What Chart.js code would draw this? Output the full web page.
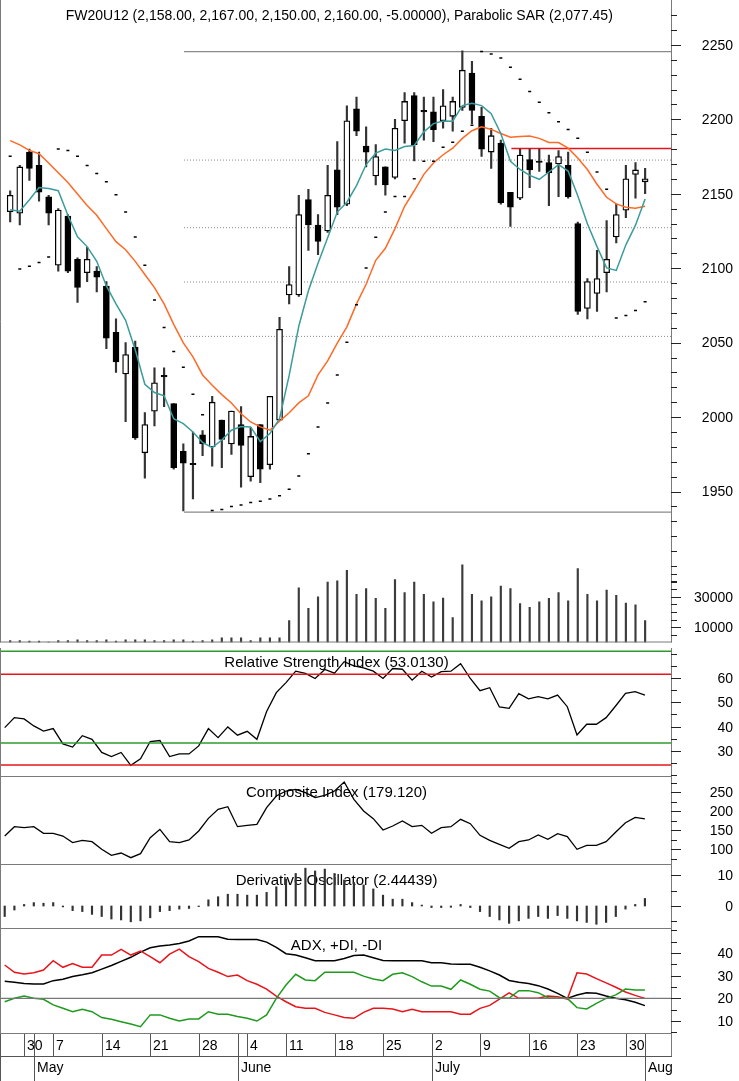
<!DOCTYPE html>
<html>
<head>
<meta charset="utf-8">
<script src="https://cdn.jsdelivr.net/npm/chart.js@4.4.1/dist/chart.umd.min.js"></script>
<style>
  html, body { margin: 0; padding: 0; background: #fff; }
  #wrap { position: relative; width: 739px; height: 1081px; overflow: hidden; }
  #wrap canvas { position: absolute; left: 0; display: block; }
</style>
</head>
<body>
<div id="wrap">
  <canvas id="priceChart" width="739" height="648" style="top:0"></canvas>
  <canvas id="rsiChart" width="739" height="129" style="top:648px"></canvas>
  <canvas id="compChart" width="739" height="88" style="top:777px"></canvas>
  <canvas id="derivChart" width="739" height="64" style="top:865px"></canvas>
  <canvas id="adxChart" width="739" height="152" style="top:929px"></canvas>
</div>
<script>
// FW20U12 daily, 26 Apr - 1 Aug 2012 (one entry per trading day)
const openP  = [2138,2137,2178,2169,2148,2102,2135,2106,2097,2098,2088,2057,2029,2047,1976,2004,2028,2009,1977,1969,1988,1980,1998,1982,1995,1960,1995,1968,1998,2082,2082,2146,2129,2125,2166,2143,2207,2182,2162,2168,2161,2199,2216,2206,2205,2199,2202,2208,2231,2202,2178,2184,2151,2147,2173,2172,2171,2170,2169,2130,2073,2083,2097,2121,2139,2163,2158]
const highP  = [2152,2169,2180,2178,2149,2140,2136,2107,2114,2101,2091,2066,2050,2051,2003,2033,2033,2009,1982,1990,1991,2014,1998,2004,2007,1993,1995,2014,2067,2101,2149,2153,2136,2169,2185,2209,2215,2195,2183,2168,2200,2218,2218,2215,2215,2220,2215,2246,2239,2208,2194,2186,2151,2180,2180,2180,2176,2179,2178,2131,2093,2112,2132,2143,2169,2171,2167]
const lowP   = [2131,2129,2159,2145,2129,2098,2097,2077,2091,2084,2046,2030,1997,1985,1959,1994,2007,1965,1937,1945,1974,1967,1966,1975,1953,1957,1956,1965,1998,2076,2081,2112,2109,2124,2136,2142,2189,2168,2156,2149,2160,2184,2172,2186,2185,2194,2192,2206,2197,2175,2167,2143,2128,2146,2154,2165,2142,2148,2147,2069,2066,2071,2084,2117,2134,2147,2150]
const closeP = [2149,2168,2167,2151,2137,2139,2098,2087,2106,2094,2053,2037,2042,1986,1995,2023,2027,1966,1969,1968,1982,2010,1985,2004,1981,1987,1965,2014,2059,2089,2136,2129,2118,2149,2141,2199,2192,2178,2175,2156,2194,2212,2183,2205,2193,2209,2212,2233,2206,2180,2189,2144,2141,2176,2166,2171,2164,2175,2148,2071,2091,2093,2106,2136,2160,2166,2160]

const maFast = [2139.2,2138.3,2146,2154.2,2153.5,2152,2135.5,2121.1,2114.5,2104.6,2088.1,2076,2065,2045.2,2022,2016.5,2014.3,1998.9,1995.6,1990,1983,1979.5,1984.6,1991.2,1993.6,1993.4,1983.5,1988.9,1998.9,2028,2061,2084.8,2103.3,2120.5,2137.7,2144.3,2155.5,2169.6,2177.3,2180,2179.1,2181.7,2182.4,2191.6,2197.1,2198.9,2198.7,2209.2,2210.8,2209.2,2203.7,2190.5,2171.8,2166.3,2162.3,2159.7,2164.6,2169.6,2165.2,2148.7,2129.9,2114.5,2100.2,2098.5,2115.7,2128.9,2146.5]
const maSlow = [2185.7,2182.8,2179.1,2176.9,2170.7,2164.1,2157.5,2149.8,2142.1,2135.5,2126.6,2117.8,2112.4,2104.6,2095.8,2087,2076,2062.3,2049.8,2040.5,2028.3,2021.4,2015.1,2009.5,2002.2,1996.7,1993.4,1991.2,1997.2,2002.9,2009.5,2014.3,2028.3,2037.7,2049.6,2060.6,2076,2089.2,2105.3,2113.4,2126.6,2141.6,2152,2163,2170.7,2176.2,2180.6,2187.2,2192.3,2195,2193.2,2190.5,2187.9,2188.5,2188.7,2187.2,2184.4,2184.4,2180.6,2174,2166.3,2156.4,2147.6,2143.2,2141,2140.3,2141.6]
const sarVals = [2175.1,2099.5,2101.3,2103.9,2107.5,2180,2179.1,2175.1,2168.9,2163.6,2158.1,2149.3,2137.7,2120.9,2102,2078.6,2060.1,2044,2033.5,2015.4,2001.5,1937.2,1937.9,1939.9,1940.9,1942.7,1943.4,1944.9,1947.1,1951.5,1960.4,1975.3,1993.4,2009.5,2028.2,2050.2,2075.5,2100.2,2120.7,2137.7,2148.2,2148.2,2160.1,2171.8,2171.8,2181.3,2184.6,2192,2196,2245.6,2243.9,2241.2,2235,2226.9,2218.7,2211.5,2204.4,2198.3,2193.2,2187.2,2177.8,2164.6,2153.1,2066.5,2068.3,2071.6,2077.45]
const volume = [1200,1200,1000,1000,300,1200,1200,1800,1200,1200,1800,1000,1800,1800,1800,1200,1200,1800,1800,1000,1200,1800,3000,3000,3000,1200,3000,3000,3000,14400,35900,22400,29900,39600,40400,47300,31600,35300,29000,22400,41300,32700,39600,31600,26700,29200,16300,51000,31600,27300,29900,37000,35300,25600,23000,26700,29000,32700,27300,48400,31600,27300,34400,31000,25800,24700,14400]

const rsiVals = [39.6,43.7,43.2,40.3,38.2,39.2,32.9,31.6,36.3,34.8,29.4,27.7,29.4,24.1,26.8,33.9,34.3,27.7,28.8,28.8,32.1,39.2,35.5,39.9,36.5,38.1,34.8,46.2,54,58.1,62.8,61.9,59.8,63.5,62,66.7,65,64.2,62.8,59.8,63.9,63.6,59.1,62.8,60.4,62.6,62.8,65.9,59.8,54.8,56,48.1,47.5,53.6,51.4,52.3,51.4,53,48.2,36.6,41,41,43.7,48.6,53.7,54.4,53.0]
const compVals = [134.2,158.8,156.2,158.8,141.3,141.3,134.2,116.7,122.8,119.3,99.2,83.4,89.5,77.2,87.7,129.9,151.8,119.3,116.7,123.7,147.4,180.7,204.4,211.4,158.8,162.3,164.9,208.8,239.5,252.6,257,248.3,235.1,241.2,252.6,276.3,230.7,200,179.8,150,160.6,173.7,158.8,162.3,141.3,156.2,158.8,178.1,166.7,136,122.8,112.3,101.8,119.3,123.7,136.9,125.5,140.4,132.5,99.2,109.7,109.7,119.3,144.8,169.3,183.4,179.1]
const derivVals = [-3.4,-1.3,0.5,1.1,0.9,1.1,-0.3,-1.5,-1.8,-2.7,-3.4,-4.2,-4.5,-5.1,-4.8,-3.8,-1.8,-1.5,-1,-0.8,-0.2,2,3,3.8,3.8,3.5,3.5,4.4,6.2,8.7,10.5,12.2,11.3,11.9,10.5,8.4,7.6,6.8,5.5,3.5,2.2,2.2,1.1,0.3,-0.5,-0.5,-0.4,0.5,-0.5,-1.8,-3.4,-4.5,-5.6,-4.8,-4,-3.4,-4,-3.1,-4,-4.8,-5.3,-5.9,-5.3,-3.4,-1,0.5,2.44]
const adxVals = [27.5,27.1,26.5,26.3,26.3,27.8,28.4,29.6,30.4,31.3,32.9,34.5,36.3,38.1,40.4,42.3,43.1,43.5,44.2,45.3,47.2,47.2,47.2,46.1,46,46,46,44.8,42.5,39.7,39.1,37.9,36.6,36.6,36.6,37.6,38.9,39.1,37.9,36.7,36.6,36.6,36.6,36.6,35.7,35.7,35.1,35,35,33.7,32.1,30.3,27.9,27.1,26.5,25.6,24.1,22.2,20,21.5,22.5,22.2,21,20,19.4,18.3,16.8]
const plusDI = [18.5,20,21,20,19.6,17.1,15.6,14.1,15.2,14.1,11.5,10.8,9.7,8.7,7.5,12.7,12.7,11.2,10,10.9,10.9,14.1,13,13,12,11.2,10,12.7,20,25.9,30.6,28.1,27.8,31.5,31.5,31.5,31.5,29.8,28.5,27.8,30.6,31.3,29.6,27.3,25.4,25.4,24,28.1,26.2,24,23.2,20.3,20,23.4,23.4,22.5,20.3,20,20,15.9,15.3,17.8,20,21.5,24.1,23.7,23.7]
const minusDI = [34.7,31.5,30.7,31.3,32.5,36.6,33.7,35.4,33.7,33.7,39.1,39.1,41.6,39.1,40.9,38.4,35.7,39.5,41.7,38.4,36.2,33.2,31.5,29.6,30.3,27.8,26.2,24.1,21,18.5,16.3,15.6,15.6,13.8,12.7,11.6,11.2,13.8,15.6,15.6,15.3,14.1,15.2,14.1,14.1,14.1,14.1,13,13,15.6,16.9,19.7,22.4,20,20,20,21,20.7,19.7,31.3,30.7,28.7,26.8,24.9,22.8,21.3,20]

// drawn levels
const fibLevels = [2245.4, 2172.6, 2127.2, 2090.7, 2054.2, 1936.1]
const fibStart = 18.07
const resistLevel = 2180.4
const resistStart = 52.1
const rsiGreen = [71, 33.3]
const rsiRed = [61.5, 24.2]
const adxRef = 20

// x axis
const dayTickIdx = [2,5,10,15,20,25,29,34,39,44,49,54,59,64]
const dayTickLabels = ['30','7','14','21','28','4','11','18','25','2','9','16','23','30']
const monthTickIdx = [3,24,44,66]
const monthTickLabels = ['May','June','July','Aug']

const X_MIN = -0.485, X_MAX = 68.69
const FONT = '"Liberation Sans", Arial, sans-serif'
const RIGHT_PAD = 68

Chart.defaults.font.family = FONT
Chart.defaults.animation = false

const idx = openP.map((_, i) => i)
const pts = arr => arr.map((v, i) => ({ x: i, y: v }))
const hline = (level, from) => [{ x: from, y: level }, { x: X_MAX, y: level }]
const range = (a, b, s) => { const r = []; for (let v = a; v <= b + 1e-9; v += s) r.push(v); return r }

function xScale() {
  return { type: 'linear', min: X_MIN, max: X_MAX, offset: false, display: false }
}

function frameAxis(cfg) {
  return {
    id: 'frameAxis',
    afterDraw(chart) {
      const { ctx, chartArea: a } = chart
      ctx.save()
      ctx.strokeStyle = '#7a7a7a'
      ctx.lineWidth = 1
      ctx.beginPath()
      ctx.moveTo(0.5, 0); ctx.lineTo(0.5, a.bottom)
      ctx.moveTo(a.right + 0.5, 0); ctx.lineTo(a.right + 0.5, a.bottom + (cfg.axisExtra || 0))
      ctx.moveTo(0, a.bottom - 0.5); ctx.lineTo(a.right + 1, a.bottom - 0.5)
      ctx.stroke()

      ctx.strokeStyle = '#222'
      ctx.fillStyle = '#000'
      ctx.font = '14px ' + FONT
      ctx.textAlign = 'right'
      ctx.textBaseline = 'middle'
      cfg.axes.forEach(ax => {
        const sc = chart.scales[ax.id]
        ctx.beginPath()
        ax.minor.forEach(v => {
          if (ax.major.includes(v)) return
          const y = Math.round(sc.getPixelForValue(v)) + 0.5
          ctx.moveTo(a.right, y); ctx.lineTo(a.right + 6, y)
        })
        ax.major.forEach(v => {
          const y = Math.round(sc.getPixelForValue(v)) + 0.5
          ctx.moveTo(a.right, y); ctx.lineTo(a.right + 10, y)
        })
        ctx.stroke()
        ax.major.forEach((v, k) => ctx.fillText(ax.labels[k], 733, sc.getPixelForValue(v) + 1))
      })
      ctx.restore()
    }
  }
}

function paneTitle(text, y, size) {
  return {
    id: 'paneTitle',
    beforeDatasetsDraw(chart) {
      const { ctx, chartArea: a } = chart
      ctx.save()
      ctx.fillStyle = '#000'
      ctx.font = size + 'px ' + FONT
      ctx.textAlign = 'center'
      ctx.textBaseline = 'middle'
      ctx.fillText(text, (a.left + a.right) / 2 + 1, y)
      ctx.restore()
    }
  }
}

const dateAxis = {
  id: 'dateAxis',
  afterDraw(chart) {
    const { ctx, chartArea: a } = chart
    const sx = chart.scales.x
    const row1 = a.bottom, row2 = a.bottom + 22, end = chart.height
    ctx.save()
    ctx.strokeStyle = '#555'
    ctx.lineWidth = 1
    ctx.beginPath()
    ctx.moveTo(0, row2 + 0.5); ctx.lineTo(a.right + 1, row2 + 0.5)
    ctx.moveTo(0.5, row1); ctx.lineTo(0.5, end)
    dayTickIdx.forEach(i => {
      const x = Math.round(sx.getPixelForValue(i)) + 0.5
      ctx.moveTo(x, row1); ctx.lineTo(x, row2)
    })
    monthTickIdx.forEach(i => {
      const x = Math.round(sx.getPixelForValue(i)) + 0.5
      ctx.moveTo(x, row1); ctx.lineTo(x, end)
    })
    ctx.stroke()
    ctx.fillStyle = '#000'
    ctx.font = '14px ' + FONT
    ctx.textAlign = 'left'
    ctx.textBaseline = 'middle'
    dayTickIdx.forEach((i, k) => ctx.fillText(dayTickLabels[k], Math.round(sx.getPixelForValue(i)) + 3, row1 + 12))
    monthTickIdx.forEach((i, k) => ctx.fillText(monthTickLabels[k], Math.round(sx.getPixelForValue(i)) + 3, row2 + 12))
    ctx.restore()
  }
}

const baseOpts = (yScales) => ({
  responsive: false,
  animation: false,
  layout: { padding: { left: 0, right: RIGHT_PAD, top: 0, bottom: 0 } },
  plugins: { legend: { display: false }, tooltip: { enabled: false } },
  scales: Object.assign({ x: xScale() }, yScales)
})

const lineDs = (data, color, width, extra) => Object.assign({
  type: 'line', data, borderColor: color, borderWidth: width,
  pointRadius: 0, tension: 0, fill: false
}, extra || {})

// ---------- price + volume ----------
const fibDatasets = fibLevels.map((lv, k) => lineDs(hline(lv, fibStart), '#8a8a8a',
  (k === 0 || k === fibLevels.length - 1) ? 1.2 : 1,
  { borderDash: (k === 0 || k === fibLevels.length - 1) ? [] : [1, 2], order: 20 }))

new Chart(document.getElementById('priceChart'), {
  type: 'bar',
  data: {
    datasets: [
      ...fibDatasets,
      lineDs(hline(resistLevel, resistStart), '#e8141a', 1.5, { order: 19 }),
      {
        type: 'bar', yAxisID: 'vol', order: 18, grouped: false,
        data: pts(volume), backgroundColor: '#3c3c3c', barThickness: 1.5
      },
      {
        type: 'bar', order: 10, grouped: false,
        data: idx.map(i => ({ x: i, y: [lowP[i], highP[i]] })),
        backgroundColor: '#333', barThickness: 1.5
      },
      {
        type: 'bar', order: 9, grouped: false,
        data: idx.map(i => ({ x: i, y: [openP[i], closeP[i]] })),
        backgroundColor: idx.map(i => closeP[i] >= openP[i] ? '#fff' : '#000'),
        borderColor: '#000', borderWidth: 1.3, borderSkipped: false, barThickness: 6
      },
      lineDs(pts(maSlow), '#ff6a26', 1.5, { order: 5 }),
      lineDs(pts(maFast), '#3c9c9c', 1.5, { order: 4 }),
      lineDs(pts(sarVals), '#000', 1.5, { showLine: false, pointRadius: 1.5, pointStyle: 'line', pointBorderWidth: 1.5, order: 3 })
    ]
  },
  options: baseOpts({
    y: { min: 1848.6, max: 2276.43, display: false },
    vol: { min: 0, max: 417742, display: false }
  }),
  plugins: [
    paneTitle('FW20U12 (2,158.00, 2,167.00, 2,150.00, 2,160.00, -5.00000), Parabolic SAR (2,077.45)', 16, 14),
    frameAxis({ axes: [
      { id: 'y', major: range(1950, 2250, 50), labels: range(1950, 2250, 50).map(String), minor: range(1890, 2270, 10) },
      { id: 'vol', major: [10000, 30000], labels: ['10000', '30000'], minor: range(5000, 50000, 5000) }
    ] })
  ]
})

// ---------- RSI ----------
new Chart(document.getElementById('rsiChart'), {
  type: 'line',
  data: {
    datasets: [
      lineDs(hline(rsiGreen[0], X_MIN), '#2e9a2e', 1.5),
      lineDs(hline(rsiGreen[1], X_MIN), '#2e9a2e', 1.5),
      lineDs(hline(rsiRed[0], X_MIN), '#e8141a', 1.5),
      lineDs(hline(rsiRed[1], X_MIN), '#e8141a', 1.5),
      lineDs(pts(rsiVals), '#000', 1.3)
    ]
  },
  options: baseOpts({ y: { min: 19.31, max: 72.33, display: false } }),
  plugins: [
    paneTitle('Relative Strength Index (53.0130)', 14.5, 15),
    frameAxis({ axes: [{ id: 'y', major: [30, 40, 50, 60], labels: ['30', '40', '50', '60'], minor: range(20, 70, 5) }] })
  ]
})

// ---------- Composite Index ----------
new Chart(document.getElementById('compChart'), {
  type: 'line',
  data: { datasets: [lineDs(pts(compVals), '#000', 1.3)] },
  options: baseOpts({ y: { min: 57.9, max: 289.5, display: false } }),
  plugins: [
    paneTitle('Composite Index (179.120)', 15.5, 15),
    frameAxis({ axes: [{ id: 'y', major: [100, 150, 200, 250], labels: ['100', '150', '200', '250'], minor: range(75, 275, 25) }] })
  ]
})

// ---------- Derivative Oscillator ----------
new Chart(document.getElementById('derivChart'), {
  type: 'bar',
  data: {
    datasets: [{
      data: pts(derivVals), backgroundColor: '#333', barThickness: 1.5
    }]
  },
  options: baseOpts({ y: { min: -7.42, max: 13.23, display: false } }),
  plugins: [
    paneTitle('Derivative Oscillator (2.44439)', 15.5, 15),
    frameAxis({ axes: [{ id: 'y', major: [0, 10], labels: ['0', '10'], minor: [-5, 5] }] })
  ]
})

// ---------- ADX ----------
const adxOpts = baseOpts({ y: { min: 4.27, max: 50.59, display: false } })
adxOpts.layout.padding.bottom = 47
new Chart(document.getElementById('adxChart'), {
  type: 'line',
  data: {
    datasets: [
      lineDs(hline(adxRef, X_MIN), '#777', 1.2),
      lineDs(pts(plusDI), '#1f9a1f', 1.5),
      lineDs(pts(minusDI), '#e8141a', 1.5),
      lineDs(pts(adxVals), '#000', 1.5)
    ]
  },
  options: adxOpts,
  plugins: [
    paneTitle('ADX, +DI, -DI', 16.5, 15),
    frameAxis({ axisExtra: 22, axes: [{ id: 'y', major: [10, 20, 30, 40], labels: ['10', '20', '30', '40'], minor: range(5, 50, 5) }] }),
    dateAxis
  ]
})
</script>
</body>
</html>
